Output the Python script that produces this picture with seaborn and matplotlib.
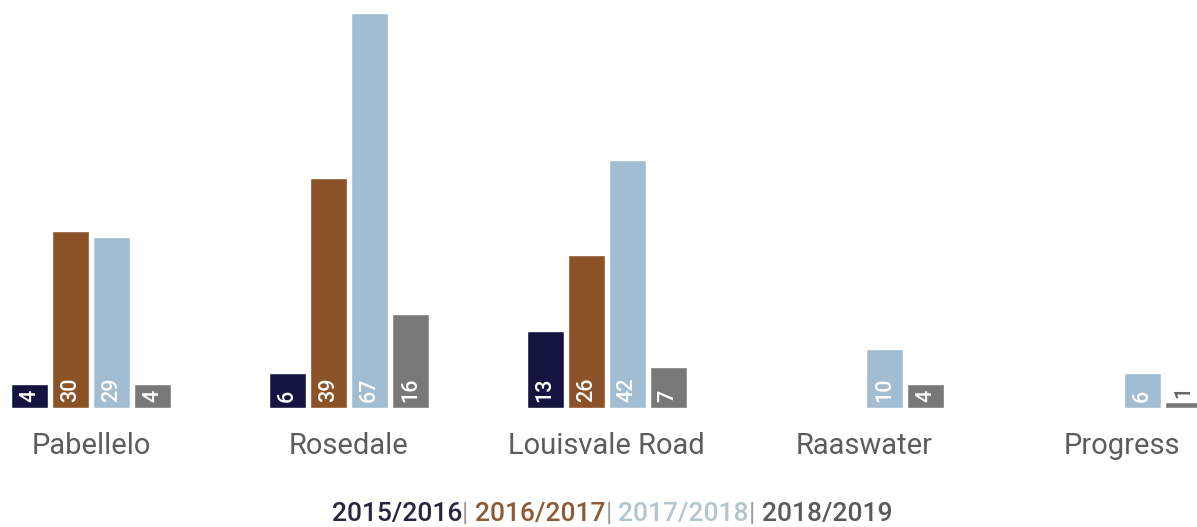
import matplotlib
matplotlib.use("Agg")
import matplotlib.pyplot as plt
import numpy as np
import pandas as pd
import seaborn as sns

categories = ["Pabellelo", "Rosedale", "Louisvale Road", "Raaswater", "Progress"]
seasons = ["2015/2016", "2016/2017", "2017/2018", "2018/2019"]
v_2015 = [4, 6, 13, np.nan, np.nan]
v_2016 = [30, 39, 26, np.nan, np.nan]
v_2017 = [29, 67, 42, 10, 6]
v_2018 = [4, 16, 7, 4, 1]
colors = ["#13143f", "#8b5228", "#a2bdd1", "#787878"]
legend_colors = ["#26273f", "#8e5a35", "#b3c5cf", "#5a5a5a"]

rows = []
for season, vals in zip(seasons, [v_2015, v_2016, v_2017, v_2018]):
    for cat, v in zip(categories, vals):
        rows.append({"site": cat, "season": season, "value": v})
df = pd.DataFrame(rows)

sns.set_theme(style="white")
plt.rcParams["font.family"] = ["Roboto", "DejaVu Sans"]

fig = plt.figure(figsize=(11.97, 5.27), dpi=100)
ax = fig.add_axes([0, 1 - 408 / 527, 1, 408 / 527])

sns.barplot(data=df, x="site", y="value", hue="season", order=categories,
            hue_order=seasons, palette=colors, width=0.636, gap=0.1,
            saturation=1, ax=ax, legend=False, errorbar=None)

ax.set_xlim(-0.354, 4.291)
ax.set_ylim(0, 69.2)
ax.axis("off")

# value labels, rotated, near the bottom of each bar
for cont in ax.containers:
    for p in cont.patches:
        h = p.get_height()
        if not np.isfinite(h) or h <= 0:
            continue
        xc = p.get_x() + p.get_width() / 2
        if h < 3:
            ax.annotate(f"{int(h)}", (xc, h), xytext=(0, 3), textcoords="offset points",
                        rotation=90, ha="center", va="bottom", color="#666666",
                        fontsize=15.5, fontweight="medium")
        else:
            ax.annotate(f"{int(h)}", (xc, 0), xytext=(0, 4), textcoords="offset points",
                        rotation=90, ha="center", va="bottom", color="white",
                        fontsize=15.5, fontweight="medium")

# category names under the groups
for i, cat in enumerate(categories):
    ax.annotate(cat, (i, 0), xytext=(0, -27), textcoords="offset points",
                ha="center", va="center", color="#5c5c5c", fontsize=21)

# coloured legend text at the bottom
pieces = []
for i, (s, c) in enumerate(zip(seasons, legend_colors)):
    pieces.append((s, c, "medium"))
    if i < len(seasons) - 1:
        pieces.append(("| ", "#9a9a9a", "normal"))
fig.canvas.draw()
renderer = fig.canvas.get_renderer()
texts = []
for s, c, w in pieces:
    t = fig.text(0, 1 - 514 / 527, s, color=c, fontsize=19, fontweight=w,
                 ha="left", va="center")
    texts.append(t)
widths = [t.get_window_extent(renderer).width for t in texts]
total = sum(widths)
x = 612 - total / 2
for t, w in zip(texts, widths):
    t.set_x(x / fig.bbox.width)
    x += w

fig.savefig("out.png", dpi=100)
